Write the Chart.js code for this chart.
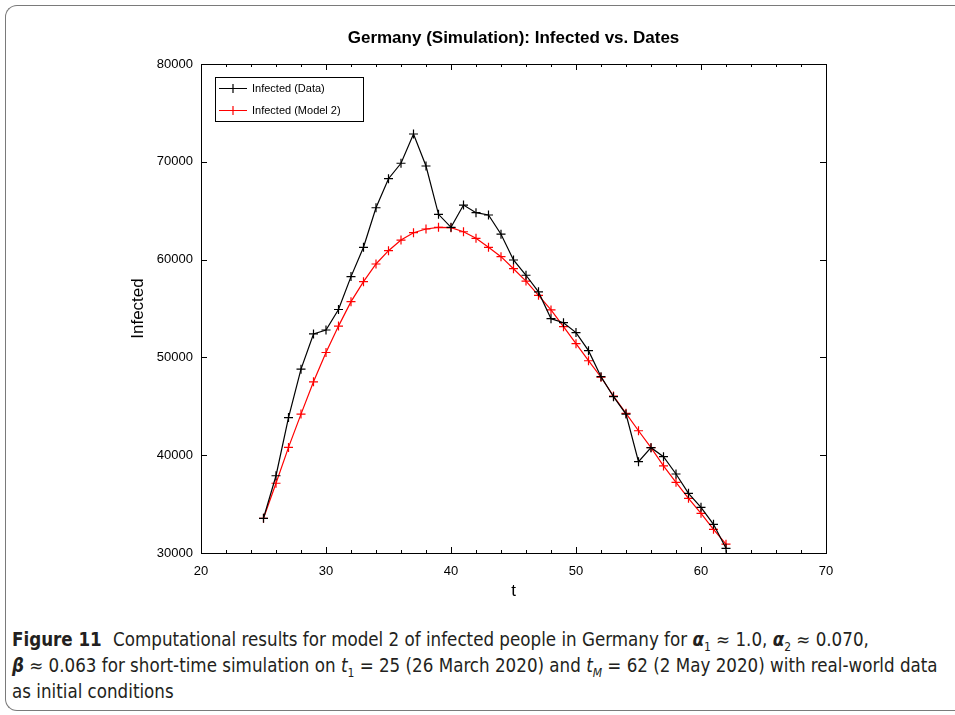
<!DOCTYPE html>
<html>
<head>
<meta charset="utf-8">
<script src="https://cdn.jsdelivr.net/npm/chart.js@4"></script>
<style>
  html, body { margin: 0; padding: 0; background: #fff; overflow: hidden; }
  body { width: 955px; height: 715px; position: relative; }
  .frame {
    position: absolute; left: 5px; top: 5px; width: 1200px; height: 706px;
    border: 1.5px solid #7a7a7a; border-right: none; border-radius: 12px 0 0 12px;
    box-sizing: border-box;
  }
  #wrap { position: absolute; left: 0; top: 0; width: 955px; height: 610px; }
  .caption {
    position: absolute; left: 12px; top: 627px; width: 940px;
    font-family: "DejaVu Sans Condensed", "Noto Sans", sans-serif;
    font-size: 18.6px; line-height: 26px; color: #231f20; white-space: nowrap;
  }
  .caption b.fig { font-weight: bold; margin-right: 6px; }
  .caption sub { font-size: 12px; line-height: 0; }
</style>
</head>
<body>
<div class="frame"></div>
<div id="wrap"><canvas id="chart" width="955" height="610"></canvas></div>
<div class="caption">
  <b class="fig">Figure 11</b> Computational results for model 2 of infected people in Germany for <b><i>α</i></b><sub>1</sub> ≈ 1.0, <b><i>α</i></b><sub>2</sub> ≈ 0.070,<br>
  <b><i>β</i></b> ≈ 0.063 for short-time simulation on <i>t</i><sub>1</sub> = 25 (26 March 2020) and <i>t<sub>M</sub></i> = 62 (2 May 2020) with real-world data<br>
  as initial conditions
</div>
<script>
// t values (days)
const days = [25, 26, 27, 28, 29, 30, 31, 32, 33, 34, 35, 36, 37, 38, 39, 40, 41, 42, 43,
  44, 45, 46, 47, 48, 49, 50, 51, 52, 53, 54, 55, 56, 57, 58, 59, 60, 61, 62];

// observed infected (data)
const infectedData = [33550, 37900, 43850, 48800, 52400, 52800, 54900, 58260, 61260, 65300,
  68270, 69850, 72840, 69570, 64630, 63300, 65580, 64800, 64560, 62600, 59960, 58400, 56700,
  53960, 53550, 52540, 50690, 48030, 45980, 44210, 39340, 40770, 39850, 38080, 36100, 34670,
  32930, 30480];

// model 2 simulation
const infectedModel = [33550, 37130, 40800, 44200, 47500, 50500, 53200, 55700, 57740, 59550,
  60910, 62000, 62750, 63130, 63300, 63260, 62850, 62180, 61260, 60300, 59070, 57800, 56350,
  54850, 53140, 51400, 49660, 47970, 46050, 44280, 42500, 40770, 38900, 37230, 35590, 34060,
  32420, 30900];

const xTicks = [20, 30, 40, 50, 60, 70];
const yTicks = [30000, 40000, 50000, 60000, 70000, 80000];

const chartTitle = "Germany (Simulation): Infected vs. Dates";
const legendLabels = ["Infected (Data)", "Infected (Model 2)"];
const seriesColors = ["#000000", "#ff0000"];

const FONT = "'Liberation Sans', Arial, sans-serif";

const toPoints = (vals) => days.map((d, i) => ({ x: d, y: vals[i] }));

// title over the plot, box around it, inward ticks on all four sides, legend inside
const boxPlugin = {
  id: "boxPlugin",
  afterDraw(chart) {
    const { ctx, chartArea: a, scales } = chart;
    const xs = scales.x, ys = scales.y;
    ctx.save();

    ctx.fillStyle = "#000";
    ctx.font = "bold 17px " + FONT;
    ctx.textAlign = "center";
    ctx.textBaseline = "middle";
    ctx.fillText(chartTitle, (a.left + a.right) / 2, a.top - 26);

    ctx.strokeStyle = "#000";
    ctx.lineWidth = 1;
    ctx.strokeRect(a.left + 0.5, a.top + 0.5, a.right - a.left, a.bottom - a.top);

    ctx.beginPath();
    for (let v = 20; v <= 70; v += 2) {
      const px = Math.round(xs.getPixelForValue(v)) + 0.5;
      const len = v % 10 === 0 ? 6 : 3;
      ctx.moveTo(px, a.bottom); ctx.lineTo(px, a.bottom - len);
      ctx.moveTo(px, a.top); ctx.lineTo(px, a.top + len);
    }
    yTicks.forEach((v) => {
      const py = Math.round(ys.getPixelForValue(v)) + 0.5;
      ctx.moveTo(a.left, py); ctx.lineTo(a.left + 6, py);
      ctx.moveTo(a.right, py); ctx.lineTo(a.right - 6, py);
    });
    ctx.stroke();

    // legend
    const lx = a.left + 14, ly = a.top + 13, lw = 148, lh = 44;
    ctx.fillStyle = "#fff";
    ctx.fillRect(lx, ly, lw, lh);
    ctx.strokeRect(lx + 0.5, ly + 0.5, lw, lh);
    ctx.font = "11px " + FONT;
    ctx.textAlign = "left";
    legendLabels.forEach((lab, i) => {
      const y = ly + 11.5 + i * 22;
      ctx.strokeStyle = seriesColors[i];
      ctx.lineWidth = 1.2;
      ctx.beginPath();
      ctx.moveTo(lx + 4, y); ctx.lineTo(lx + 32, y);
      ctx.moveTo(lx + 18, y - 4.5); ctx.lineTo(lx + 18, y + 4.5);
      ctx.moveTo(lx + 13.5, y); ctx.lineTo(lx + 22.5, y);
      ctx.stroke();
      ctx.fillStyle = "#000";
      ctx.fillText(lab, lx + 37, y);
    });
    ctx.restore();
  }
};

const ctx = document.getElementById("chart").getContext("2d");
new Chart(ctx, {
  type: "line",
  data: {
    datasets: [
      {
        label: legendLabels[0],
        data: toPoints(infectedData),
        borderColor: seriesColors[0],
        backgroundColor: seriesColors[0],
        borderWidth: 1.2,
        pointStyle: "cross",
        pointRadius: 4.5,
        pointBorderWidth: 1.2,
        tension: 0,
        fill: false,
      },
      {
        label: legendLabels[1],
        data: toPoints(infectedModel),
        borderColor: seriesColors[1],
        backgroundColor: seriesColors[1],
        borderWidth: 1.2,
        pointStyle: "cross",
        pointRadius: 4.5,
        pointBorderWidth: 1.2,
        tension: 0,
        fill: false,
      },
    ],
  },
  options: {
    responsive: false,
    animation: false,
    layout: { padding: { left: 0, right: 129, top: 64, bottom: 0 } },
    plugins: {
      legend: { display: false },
      tooltip: { enabled: false },
      title: { display: false },
    },
    scales: {
      x: {
        type: "linear",
        min: 20,
        max: 70,
        afterFit: (s) => { s.height = 57; },
        afterBuildTicks: (s) => { s.ticks = xTicks.map((v) => ({ value: v })); },
        grid: { display: false, drawTicks: false },
        border: { display: false },
        ticks: {
          padding: 11,
          color: "#000",
          maxRotation: 0,
          font: { family: FONT, size: 13 },
        },
        title: {
          display: true,
          text: "t",
          color: "#000",
          font: { family: FONT, size: 17 },
          padding: { top: 0, bottom: 8 },
        },
      },
      y: {
        type: "linear",
        min: 30000,
        max: 80000,
        afterFit: (s) => { s.width = 201; },
        afterBuildTicks: (s) => { s.ticks = yTicks.map((v) => ({ value: v })); },
        grid: { display: false, drawTicks: false },
        border: { display: false },
        ticks: {
          padding: 8,
          color: "#000",
          font: { family: FONT, size: 13 },
          callback: (v) => String(v),
        },
        title: {
          display: true,
          text: "Infected",
          color: "#000",
          font: { family: FONT, size: 17 },
          padding: { top: 128, bottom: 0 },
        },
      },
    },
  },
  plugins: [boxPlugin],
});
</script>
</body>
</html>
